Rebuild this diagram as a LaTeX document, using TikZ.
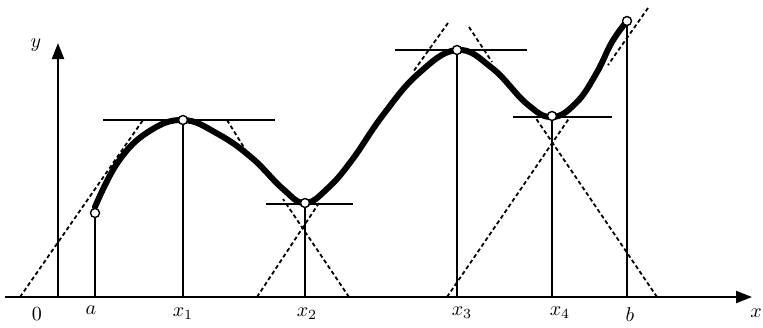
\documentclass[tikz,border=0pt]{standalone}
\usetikzlibrary{arrows.meta}

\begin{document}
\begin{tikzpicture}[x=0.5pt,y=-0.5pt,
  >={Triangle[length=8pt,width=6pt]},
  pt/.style={circle,draw,fill=white,line width=0.7pt,
    inner sep=0pt,minimum size=4.5pt},
  axis/.style={line width=1pt},
  ord/.style={line width=1.4pt},
  flat/.style={line width=0.8pt},
  slope/.style={line width=0.9pt,dash pattern=on 2pt off 1.4pt},
  graph/.style={line width=3pt,line cap=round}]
  \useasboundingbox (0,0) rectangle (763,327);

  % axes
  \coordinate (o) at (58,297);
  \draw[axis,->] (5,297) -- (752,297);
  \draw[axis,->] (o) -- (58,43);
  \node at (36,45) {$y$};
  \node at (756,313) {$x$};
  \node at (37,314) {$0$};

  % slopes near the extrema
  \draw[slope] (20,297) -- (143,120);
  \draw[slope] (227,120) -- (248,154);
  \draw[slope] (257,297) -- (319,203);
  \draw[slope] (349,297) -- (283,199);
  \draw[slope] (448,23) -- (413,72);
  \draw[slope] (469,27) -- (492,62);
  \draw[slope] (447,297) -- (570,117);
  \draw[slope] (657,297) -- (535,117);
  \draw[slope] (648,8) -- (608,65);

  % horizontal tangents
  \draw[flat] (103,120) -- (275,120);
  \draw[flat] (266,204) -- (353,204);
  \draw[flat] (395,50) -- (527,50);
  \draw[flat] (513,117) -- (612,117);

  % the function
  \draw[graph] plot[smooth,tension=0.7] coordinates {
    (95,207) (118,162) (148,132) (183,120) (218,134) (252,158)
    (283,189) (305,203) (328,188) (352,160) (383,115) (418,74)
    (457,50) (492,68) (527,104) (552,117) (576,103) (596,74)
    (612,42) (627,21)};

  % points
  \node[pt] (A) at (95,213) {};
  \node[pt] (X1) at (183,120) {};
  \node[pt] (X2) at (305,203) {};
  \node[pt] (X3) at (457,50) {};
  \node[pt] (X4) at (552,116) {};
  \node[pt] (B) at (627,21) {};

  % ordinates
  \coordinate (a0) at (95,297);
  \coordinate (x10) at (183,297);
  \coordinate (x20) at (305,297);
  \coordinate (x30) at (457,297);
  \coordinate (x40) at (552,297);
  \coordinate (b0) at (627,297);
  \draw[ord] (A) -- (a0);
  \draw[ord] (X1) -- (x10);
  \draw[ord] (X2) -- (x20);
  \draw[axis] (X3) -- (x30);
  \draw[axis] (X4) -- (x40);
  \draw[ord] (B) -- (b0);

  % labels
  \node at (91,310) {$a$};
  \node at (183,314) {$x_1$};
  \node at (307,314) {$x_2$};
  \node at (462,313) {$x_3$};
  \node at (560,313) {$x_4$};
  \node at (630,315) {$b$};
\end{tikzpicture}
\end{document}
